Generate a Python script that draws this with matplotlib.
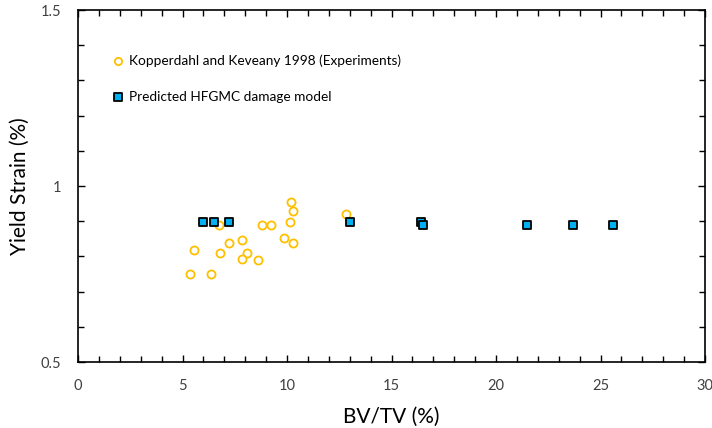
import matplotlib
matplotlib.use('Agg')
import matplotlib.pyplot as plt
from matplotlib.ticker import MultipleLocator

plt.rcParams['font.family'] = ['Lato', 'DejaVu Sans']

# experimental data (Kopperdahl and Keveany 1998)
exp_bvtv = [10.2, 10.3, 10.15, 12.8, 6.75, 8.8, 9.25, 7.2, 7.85, 9.85,
            10.3, 5.55, 6.8, 8.1, 7.85, 8.6, 5.35, 6.35]
exp_strain = [0.955, 0.93, 0.898, 0.92, 0.888, 0.89, 0.89, 0.839, 0.847, 0.851,
              0.839, 0.818, 0.809, 0.81, 0.793, 0.789, 0.75, 0.75]

# HFGMC damage model predictions
model_bvtv = [6.0, 6.5, 7.2, 13.0, 16.4, 16.5, 21.5, 23.7, 25.6]
model_strain = [0.898, 0.898, 0.898, 0.898, 0.898, 0.888, 0.888, 0.888, 0.888]

fig = plt.figure(figsize=(7.12, 4.28), dpi=100)
ax = fig.add_axes([0.1096, 0.1542, 0.8806, 0.8224])

ax.scatter(exp_bvtv, exp_strain, s=34, facecolors='white', edgecolors='#FFC000',
           linewidths=1.3, label='Kopperdahl and Keveany 1998 (Experiments)', zorder=3)
ax.scatter(model_bvtv, model_strain, s=38, marker='s', facecolors='#00B0F0',
           edgecolors='black', linewidths=1.3, label='Predicted HFGMC damage model', zorder=4)

ax.set_xlim(0, 30)
ax.set_ylim(0.5, 1.5)
ax.xaxis.set_major_locator(MultipleLocator(5))
ax.xaxis.set_minor_locator(MultipleLocator(1))
ax.yaxis.set_minor_locator(MultipleLocator(0.1))
ax.set_yticks([0.5, 1.0, 1.5])
ax.set_yticklabels(['0.5', '1', '1.5'])
ax.tick_params(which='both', direction='in', top=True, right=True, labelsize=10.5,
               colors='black', labelcolor='#404040')
ax.tick_params(which='major', length=5, width=1, pad=12)
ax.tick_params(which='minor', length=4, width=1)
for sp in ax.spines.values():
    sp.set_linewidth(1.2)

ax.set_xlabel('BV/TV (%)', fontsize=15, labelpad=10)
ax.set_ylabel('Yield Strain (%)', fontsize=15, labelpad=8)

ax.legend(loc='upper left', bbox_to_anchor=(0.036, 0.905), frameon=False, fontsize=9.8,
          handlelength=1.0, handletextpad=0.3, labelspacing=1.75, markerscale=0.9,
          borderpad=0.3)

fig.savefig('out.png', dpi=100)
